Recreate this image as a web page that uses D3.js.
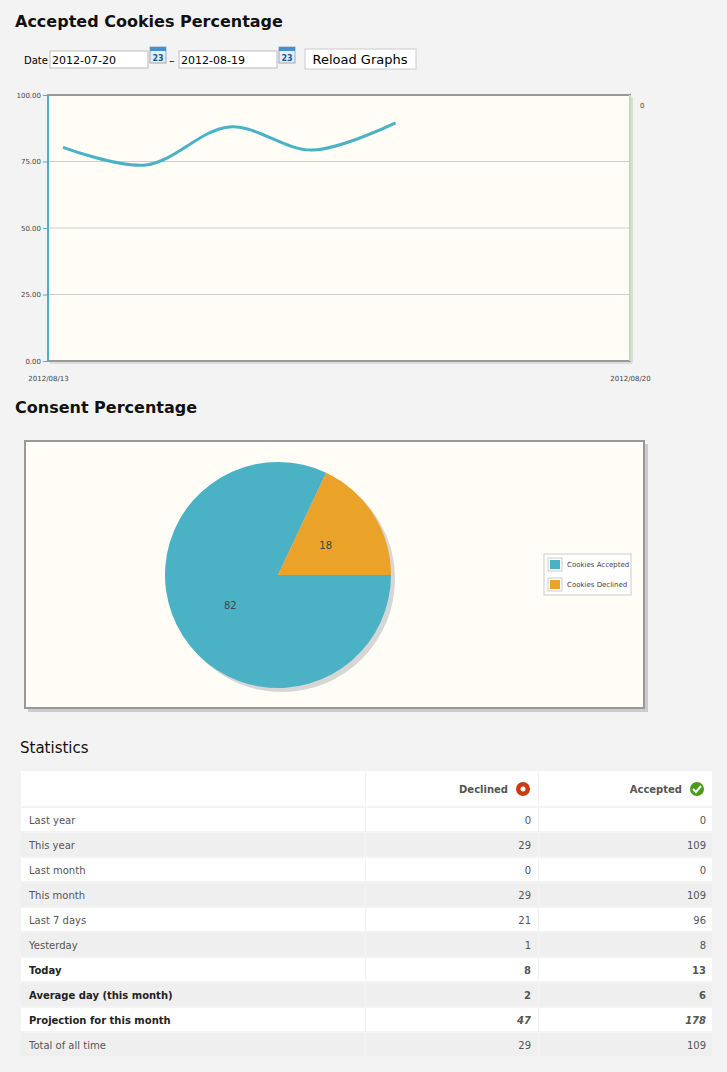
<!DOCTYPE html>
<html><head><meta charset="utf-8">
<script src="https://cdn.jsdelivr.net/npm/d3@7"></script>
<style>
body{margin:0;background:#f3f3f3;font-family:"DejaVu Sans",Verdana,sans-serif;}
svg text{font-family:"DejaVu Sans",Verdana,sans-serif;}
</style></head><body>
<svg id="c" width="727" height="1072"></svg>
<script>
// line chart data
const lineDates = ["2012-08-13T04:20", "2012-08-14T04:20", "2012-08-15T04:20", "2012-08-16T04:20", "2012-08-17T04:20"];
const lineValues = [80.3, 73.7, 88.0, 79.3, 89.5];
const yTicks = [0, 25, 50, 75, 100];
const xTickDates = ["2012-08-13", "2012-08-20"];
// pie data
const pieLabels = ["Cookies Accepted", "Cookies Declined"];
const pieValues = [82, 18];
const pieColors = ["#4bb2c5", "#eaa228"];
// table data
const rowLabels = ["Last year", "This year", "Last month", "This month", "Last 7 days", "Yesterday", "Today", "Average day (this month)", "Projection for this month", "Total of all time"];
const declined = ["0", "29", "0", "29", "21", "1", "8", "2", "47", "29"];
const accepted = ["0", "109", "0", "109", "96", "8", "13", "6", "178", "109"];
const boldRows = [6, 7, 8];
const italicRows = [8];

const svg = d3.select("#c");
const parse = d3.timeParse("%Y-%m-%dT%H:%M"), parseDay = d3.timeParse("%Y-%m-%d");

svg.append("text").attr("x", 15).attr("y", 27).attr("font-size", 16).attr("font-weight", "bold").attr("fill", "#111").text("Accepted Cookies Percentage");

// date controls
const ctl = svg.append("g").attr("font-size", 11).attr("font-family", "Liberation Sans, Arial");
ctl.append("text").attr("x", 24).attr("y", 64).attr("font-size", 10).text("Date");
[[50, "2012-07-20"], [179, "2012-08-19"]].forEach(([x, t]) => {
  ctl.append("rect").attr("x", x).attr("y", 51).attr("width", 98).attr("height", 17).attr("fill", "#fff").attr("stroke", "#bbb");
  ctl.append("text").attr("x", x + 2).attr("y", 64).attr("font-size", 11).text(t);
  const cx = x + 100;
  ctl.append("rect").attr("x", cx).attr("y", 47).attr("width", 16).attr("height", 16).attr("fill", "#e6eef4").attr("stroke", "#9ab");
  ctl.append("rect").attr("x", cx).attr("y", 47).attr("width", 16).attr("height", 4).attr("fill", "#4a90c8");
  ctl.append("text").attr("x", cx + 8).attr("y", 61).attr("text-anchor", "middle").attr("font-size", 8).attr("font-weight", "bold").attr("fill", "#1a5a90").text("23");
});
ctl.append("text").attr("x", 169).attr("y", 64).text("–");
ctl.append("rect").attr("x", 305).attr("y", 49).attr("width", 111).attr("height", 20).attr("fill", "#fff").attr("stroke", "#ccc");
ctl.append("text").attr("x", 360).attr("y", 64).attr("text-anchor", "middle").attr("font-size", 13).text("Reload Graphs");

// line chart
const L = 48, R = 630, T = 95, B = 361;
const x = d3.scaleTime().domain(xTickDates.map(parseDay)).range([L, R]);
const y = d3.scaleLinear().domain([0, 100]).range([B, T]);
svg.append("rect").attr("x", L + 2).attr("y", B - 0).attr("width", R - L).attr("height", 3).attr("fill", "#ddd");
svg.append("rect").attr("x", R).attr("y", T + 2).attr("width", 3).attr("height", B - T).attr("fill", "#ddd");
svg.append("rect").attr("x", L).attr("y", T).attr("width", R - L).attr("height", B - T).attr("fill", "#fffdf6").attr("stroke", "#999").attr("stroke-width", 2);
svg.append("g").selectAll("line").data(yTicks.slice(1, 4)).join("line")
  .attr("x1", L).attr("x2", R).attr("y1", y).attr("y2", y).attr("stroke", "#ccc");
svg.append("line").attr("x1", L).attr("x2", L).attr("y1", T).attr("y2", B).attr("stroke", "#4bb2c5").attr("stroke-width", 2);
svg.append("line").attr("x1", R).attr("x2", R).attr("y1", T).attr("y2", B).attr("stroke", "#b8e0b0").attr("stroke-width", 2);
const ya = svg.append("g").attr("transform", `translate(${L},0)`)
  .call(d3.axisLeft(y).tickValues(yTicks).tickFormat(d3.format(".2f")).tickSize(5).tickPadding(2));
ya.select(".domain").remove();
ya.selectAll("line").attr("stroke", "#4bb2c5");
ya.selectAll("text").attr("font-size", 7).attr("fill", "#444");
const xa = svg.append("g").attr("transform", `translate(0,${B + 12})`)
  .call(d3.axisBottom(x).tickValues(xTickDates.map(parseDay)).tickFormat(d3.timeFormat("%Y/%m/%d")).tickSize(0));
xa.select(".domain").remove();
xa.selectAll("text").attr("font-size", 7).attr("fill", "#444");
svg.append("text").attr("x", 640).attr("y", 108).attr("font-size", 7).attr("fill", "#444").text("0");
svg.append("path").datum(lineDates.map((d, i) => [parse(d), lineValues[i]]))
  .attr("fill", "none").attr("stroke", "#4bb2c5").attr("stroke-width", 3)
  .attr("d", d3.line().x(d => x(d[0])).y(d => y(d[1])).curve(d3.curveCatmullRom));

// pie
svg.append("text").attr("x", 15).attr("y", 413).attr("font-size", 16).attr("font-weight", "bold").attr("fill", "#111").text("Consent Percentage");
svg.append("rect").attr("x", 28).attr("y", 444).attr("width", 620).attr("height", 268).attr("fill", "#ccc");
svg.append("rect").attr("x", 25).attr("y", 441).attr("width", 619).attr("height", 267).attr("fill", "#fffdf6").attr("stroke", "#999").attr("stroke-width", 2);
const pcx = 278, pcy = 575, pr = 113;
const pie = d3.pie().sort(null).startAngle(Math.PI / 2).endAngle(Math.PI * 2.5)(pieValues);
const arc = d3.arc().innerRadius(0).outerRadius(pr);
const pg = svg.append("g").attr("transform", `translate(${pcx},${pcy})`);
pg.append("circle").attr("cx", 4).attr("cy", 4).attr("r", pr).attr("fill", "#ccc").attr("opacity", 0.8);
pg.selectAll("path").data(pie).join("path").attr("d", arc).attr("fill", (d, i) => pieColors[i]);
const lab = d3.arc().innerRadius(pr * 0.5).outerRadius(pr * 0.5);
pg.selectAll("text.v").data(pie).join("text").attr("font-size", 10).attr("fill", "#444").attr("text-anchor", "middle")
  .attr("transform", d => `translate(${lab.centroid(d)})`).attr("dy", 4).text(d => d.data);
const lg = svg.append("g").attr("font-size", 7).attr("fill", "#444");
lg.append("rect").attr("x", 544).attr("y", 554).attr("width", 87).attr("height", 41).attr("fill", "#fff").attr("stroke", "#ccc");
pieLabels.forEach((t, i) => {
  lg.append("rect").attr("x", 548).attr("y", 558 + i * 20).attr("width", 14).attr("height", 13).attr("fill", "#fff").attr("stroke", "#ccc");
  lg.append("rect").attr("x", 550).attr("y", 560 + i * 20).attr("width", 10).attr("height", 9).attr("fill", pieColors[i]);
  lg.append("text").attr("x", 567).attr("y", 567 + i * 20).text(t);
});

// table
svg.append("text").attr("x", 20).attr("y", 753).attr("font-size", 15).attr("fill", "#111").text("Statistics");
const cols = [[21, 344], [366, 172], [539, 173]];
const tg = svg.append("g").attr("font-size", 10).attr("fill", "#333");
cols.forEach(([cx, w]) => tg.append("rect").attr("x", cx).attr("y", 771).attr("width", w).attr("height", 35).attr("fill", "#fff"));
[["Declined", 366 + 172, "#c83c10"], ["Accepted", 539 + 173, "#4a9a1a"]].forEach(([t, right, col], i) => {
  tg.append("text").attr("x", right - 30).attr("y", 793).attr("text-anchor", "end").attr("font-weight", "bold").attr("fill", "#555").text(t);
  tg.append("circle").attr("cx", right - 15).attr("cy", 789).attr("r", 7).attr("fill", col);
  if (i === 0) tg.append("circle").attr("cx", right - 15).attr("cy", 789).attr("r", 2.5).attr("fill", "#fff");
  else tg.append("path").attr("d", `M${right - 19},789 l3,3 l5,-6`).attr("stroke", "#fff").attr("stroke-width", 2).attr("fill", "none");
});
rowLabels.forEach((t, i) => {
  const ry = 808 + i * 25;
  const fill = i % 2 ? "#efefef" : "#fff";
  cols.forEach(([cx, w]) => tg.append("rect").attr("x", cx).attr("y", ry).attr("width", w).attr("height", 23).attr("fill", fill));
  const b = boldRows.includes(i) ? "bold" : "normal";
  tg.append("text").attr("x", 29).attr("y", ry + 16).attr("font-weight", b).attr("fill", b === "bold" ? "#222" : "#555").text(t);
  [[531, declined[i]], [706, accepted[i]]].forEach(([tx, v]) =>
    tg.append("text").attr("x", tx).attr("y", ry + 16).attr("text-anchor", "end").attr("font-weight", b)
      .attr("font-style", italicRows.includes(i) ? "italic" : "normal").attr("fill", "#555").text(v));
});
</script></body></html>
